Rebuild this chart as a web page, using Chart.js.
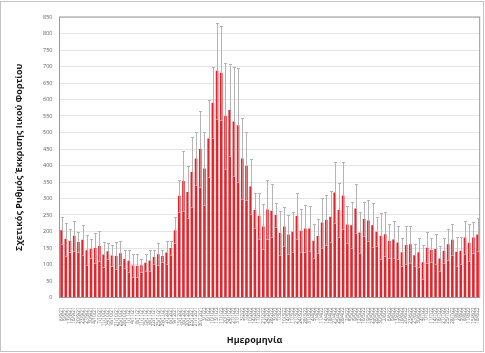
<!DOCTYPE html>
<html>
<head>
<meta charset="utf-8">
<script src="https://cdn.jsdelivr.net/npm/chart.js@4.4.1/dist/chart.umd.min.js"></script>
<style>
  html, body { margin: 0; padding: 0; background: #fff; }
  #wrap { width: 485px; height: 353px; }
</style>
</head>
<body>
<div id="wrap"><canvas id="rateChart" width="485" height="353"></canvas></div>
<script>
// Sampling dates (x axis)
const sampleDates = [
    '6/9/21', '9/9/21', '13/9/21', '16/9/21', '20/9/21', '23/9/21', '27/9/21', '30/9/21',
    '4/10/21', '7/10/21', '11/10/21', '14/10/21', '18/10/21', '21/10/21', '25/10/21', '28/10/21',
    '1/11/21', '4/11/21', '8/11/21', '11/11/21', '15/11/21', '18/11/21', '22/11/21', '25/11/21',
    '29/11/21', '2/12/21', '6/12/21', '9/12/21', '13/12/21', '16/12/21', '20/12/21', '23/12/21',
    '27/12/21', '30/12/21', '3/1/22', '6/1/22', '10/1/22', '13/1/22', '17/1/22', '20/1/22',
    '24/1/22', '27/1/22', '31/1/22', '3/2/22', '7/2/22', '10/2/22', '14/2/22', '17/2/22',
    '21/2/22', '24/2/22', '28/2/22', '3/3/22', '7/3/22', '10/3/22', '14/3/22', '17/3/22',
    '21/3/22', '24/3/22', '28/3/22', '31/3/22', '4/4/22', '7/4/22', '11/4/22', '14/4/22',
    '18/4/22', '21/4/22', '25/4/22', '28/4/22', '2/5/22', '5/5/22', '9/5/22', '12/5/22',
    '16/5/22', '19/5/22', '23/5/22', '26/5/22', '30/5/22', '2/6/22', '6/6/22', '9/6/22',
    '13/6/22', '16/6/22', '20/6/22', '23/6/22', '27/6/22', '30/6/22', '4/7/22', '7/7/22',
    '11/7/22', '14/7/22', '18/7/22', '21/7/22', '25/7/22', '28/7/22', '1/8/22', '4/8/22',
    '8/8/22', '11/8/22', '15/8/22', '18/8/22'
];

// Relative viral load shedding rate (bar heights)
const relRate = [
    204, 177, 172, 187, 168, 175, 143, 148, 150, 156,
    130, 140, 127, 126, 134, 117, 111, 97, 96, 98,
    105, 112, 123, 131, 126, 136, 150, 204, 308, 353,
    320, 380, 421, 450, 391, 482, 590, 687, 681, 550,
    568, 533, 522, 421, 399, 336, 265, 248, 215, 267,
    263, 250, 196, 215, 191, 199, 247, 202, 209, 209,
    172, 186, 227, 235, 245, 318, 265, 309, 221, 219,
    270, 197, 238, 233, 219, 199, 187, 192, 171, 176,
    167, 137, 159, 161, 128, 137, 107, 151, 144, 147,
    118, 142, 161, 175, 139, 142, 182, 166, 182, 191
];

// Top of each error bar (symmetric, so the lower end mirrors it)
const rateUpper = [
    245, 227, 207, 233, 198, 220, 189, 176, 194, 201,
    169, 164, 158, 167, 171, 144, 144, 131, 131, 118,
    131, 144, 144, 164, 144, 170, 172, 243, 356, 445,
    399, 487, 502, 566, 502, 598, 697, 833, 823, 711,
    707, 699, 694, 545, 502, 419, 318, 318, 282, 356,
    343, 285, 263, 275, 249, 259, 318, 267, 280, 277,
    223, 237, 303, 311, 323, 410, 346, 410, 277, 288,
    344, 260, 290, 295, 285, 243, 257, 258, 222, 233,
    217, 180, 217, 217, 161, 181, 159, 197, 180, 191,
    157, 180, 207, 222, 182, 182, 233, 222, 230, 240
];

const yMin = 0;
const yMax = 850;
const yStep = 50;

const yTitle = 'Σχετικός Ρυθμός Έκκρισης Ιικού Φορτίου';
const xTitle = 'Ημερομηνία';

const fontFamily = '"Open Sans", "Noto Sans", sans-serif';

// error bars drawn through the y scale
const errorBars = {
    id: 'errorBars',
    afterDatasetsDraw(chart) {
        const meta = chart.getDatasetMeta(0);
        const y = chart.scales.y;
        const ctx = chart.ctx;
        ctx.save();
        ctx.lineWidth = 1;
        meta.data.forEach((bar, i) => {
            const hi = rateUpper[i];
            const lo = 2 * relRate[i] - hi;
            const x = Math.round(bar.x) + 0.5;
            const yHi = Math.round(y.getPixelForValue(hi)) + 0.5;
            const yBar = y.getPixelForValue(relRate[i]);
            const yLo = Math.round(y.getPixelForValue(lo)) + 0.5;
            // part above the bar
            ctx.strokeStyle = '#b4b4b4';
            ctx.beginPath();
            ctx.moveTo(x, yBar);
            ctx.lineTo(x, yHi);
            ctx.moveTo(x - 1.5, yHi);
            ctx.lineTo(x + 1.5, yHi);
            ctx.stroke();
            // part over the bar, shows lighter on the red
            ctx.strokeStyle = 'rgba(215, 200, 200, 0.55)';
            ctx.beginPath();
            ctx.moveTo(x, yLo);
            ctx.lineTo(x, yBar);
            ctx.moveTo(x - 1.5, yLo);
            ctx.lineTo(x + 1.5, yLo);
            ctx.stroke();
        });
        ctx.restore();
    }
};

// white background, outer frame, plot border, x title
const frame = {
    id: 'frame',
    beforeDraw(chart) {
        const ctx = chart.ctx;
        ctx.save();
        ctx.fillStyle = '#fff';
        ctx.fillRect(0, 0, chart.width, chart.height);
        ctx.strokeStyle = '#c4c4c4';
        ctx.lineWidth = 1;
        ctx.strokeRect(0.5, 1.5, chart.width - 2, chart.height - 3);
        ctx.restore();
    },
    beforeDatasetsDraw(chart) {
        const {ctx, chartArea} = chart;
        ctx.save();
        ctx.strokeStyle = '#9a9a9a';
        ctx.lineWidth = 1;
        ctx.strokeRect(chartArea.left, chartArea.top, chartArea.right - chartArea.left, chartArea.bottom - chartArea.top);
        ctx.restore();
    },
    afterDraw(chart) {
        const {ctx, chartArea} = chart;
        ctx.save();
        ctx.font = 'bold 9px ' + fontFamily;
        ctx.fillStyle = '#1a1a1a';
        ctx.textAlign = 'center';
        ctx.textBaseline = 'middle';
        ctx.fillText(xTitle, (chartArea.left + chartArea.right) / 2 - 15, 340);
        ctx.restore();
    }
};

const ctx = document.getElementById('rateChart').getContext('2d');
new Chart(ctx, {
    type: 'bar',
    data: {
        labels: sampleDates,
        datasets: [{
            label: yTitle,
            data: relRate,
            backgroundColor: '#e3252d',
            borderWidth: 0,
            categoryPercentage: 1.0,
            barPercentage: 0.62
        }]
    },
    options: {
        responsive: false,
        animation: false,
        devicePixelRatio: 1,
        layout: { padding: { top: 17, right: 4.5, bottom: 0, left: 0 } },
        plugins: {
            legend: { display: false },
            tooltip: { enabled: false }
        },
        scales: {
            x: {
                grid: { display: false },
                border: { display: true, color: '#8a8a8a' },
                ticks: {
                    autoSkip: false,
                    minRotation: 90,
                    maxRotation: 90,
                    padding: 2,
                    color: '#606060',
                    font: { size: 4.5, family: fontFamily }
                },
                afterFit(scale) { scale.height = 55.5; }
            },
            y: {
                min: yMin,
                max: yMax,
                grid: { color: '#e4e4e4', drawTicks: false },
                border: { display: true, color: '#8a8a8a' },
                ticks: {
                    stepSize: yStep,
                    padding: 7,
                    color: '#606060',
                    font: { size: 5.5, family: fontFamily }
                },
                title: {
                    display: true,
                    text: yTitle,
                    color: '#1a1a1a',
                    font: { size: 9, weight: 'bold', family: fontFamily },
                    padding: { top: 14, bottom: 0 }
                },
                afterFit(scale) { scale.width = 59.5; }
            }
        }
    },
    plugins: [errorBars, frame]
});
</script>
</body>
</html>
